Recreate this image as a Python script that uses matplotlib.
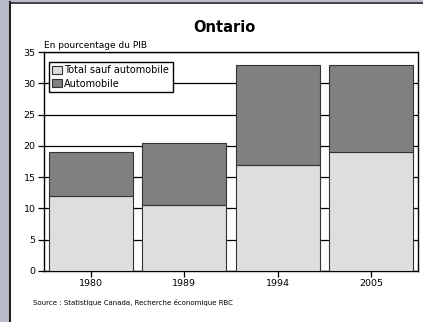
import numpy as np
import matplotlib.pyplot as plt
from matplotlib.patches import Rectangle

years = ['1980', '1989', '1994', '2005']
hors_auto = [12, 10.5, 17, 19]
auto = [7, 10, 16, 14]

fig = plt.figure(figsize=(4.23, 3.22), dpi=100)
fig.patch.set_facecolor('#b8bccb')
W, H = 423, 322

# white panel with dark left/top edge
fig.patches.append(Rectangle((10 / W, 0), 1 - 10 / W, 1 - 2 / H, transform=fig.transFigure,
                             facecolor='white', edgecolor='none', zorder=-10))
fig.lines.append(plt.Line2D([10 / W, 10 / W], [0, 1 - 2 / H], transform=fig.transFigure,
                            color='#222222', lw=1.5, zorder=-5))
fig.lines.append(plt.Line2D([10 / W, 1], [1 - 2.5 / H, 1 - 2.5 / H], transform=fig.transFigure,
                            color='#222222', lw=1.2, zorder=-5))

ax = fig.add_axes([44 / W, 1 - 271 / H, (418 - 44) / W, (271 - 52) / H])
x = np.arange(len(years))
ax.bar(x, hors_auto, width=0.9, color='#dedede', edgecolor='#333333', lw=0.8,
       label='Total sauf automobile', zorder=3)
ax.bar(x, auto, bottom=hors_auto, width=0.9, color='#808080', edgecolor='#333333', lw=0.8,
       label='Automobile', zorder=3)

ax.set_xlim(-0.5, 3.5)
ax.set_ylim(0, 35)
ax.set_yticks(range(0, 36, 5))
ax.set_xticks(x)
ax.set_xticklabels(years)
ax.yaxis.grid(True, color='black', lw=0.9, zorder=0)
ax.set_axisbelow(True)
for s in ax.spines.values():
    s.set_linewidth(1.0)
ax.tick_params(axis='both', labelsize=6.8, length=4, width=0.9, direction='out', pad=2)

ax.text(0, 1.01, 'En pourcentage du PIB', transform=ax.transAxes, fontsize=6.5,
        ha='left', va='bottom')
fig.text(224 / W, 1 - 28 / H, 'Ontario', fontsize=10.5, fontweight='bold',
         ha='center', va='center')
fig.text(33 / W, 1 - 302 / H, 'Source : Statistique Canada, Recherche économique RBC',
         fontsize=5, ha='left', va='center')

leg = ax.legend(loc='upper left', bbox_to_anchor=(0.013, 0.955), fontsize=7,
                frameon=True, fancybox=False, edgecolor='black', framealpha=1,
                handlelength=1.0, handleheight=0.9, handletextpad=0.25,
                borderpad=0.35, labelspacing=0.35, borderaxespad=0)
leg.get_frame().set_linewidth(1.0)

fig.savefig('out.png', dpi=100, facecolor=fig.get_facecolor())
